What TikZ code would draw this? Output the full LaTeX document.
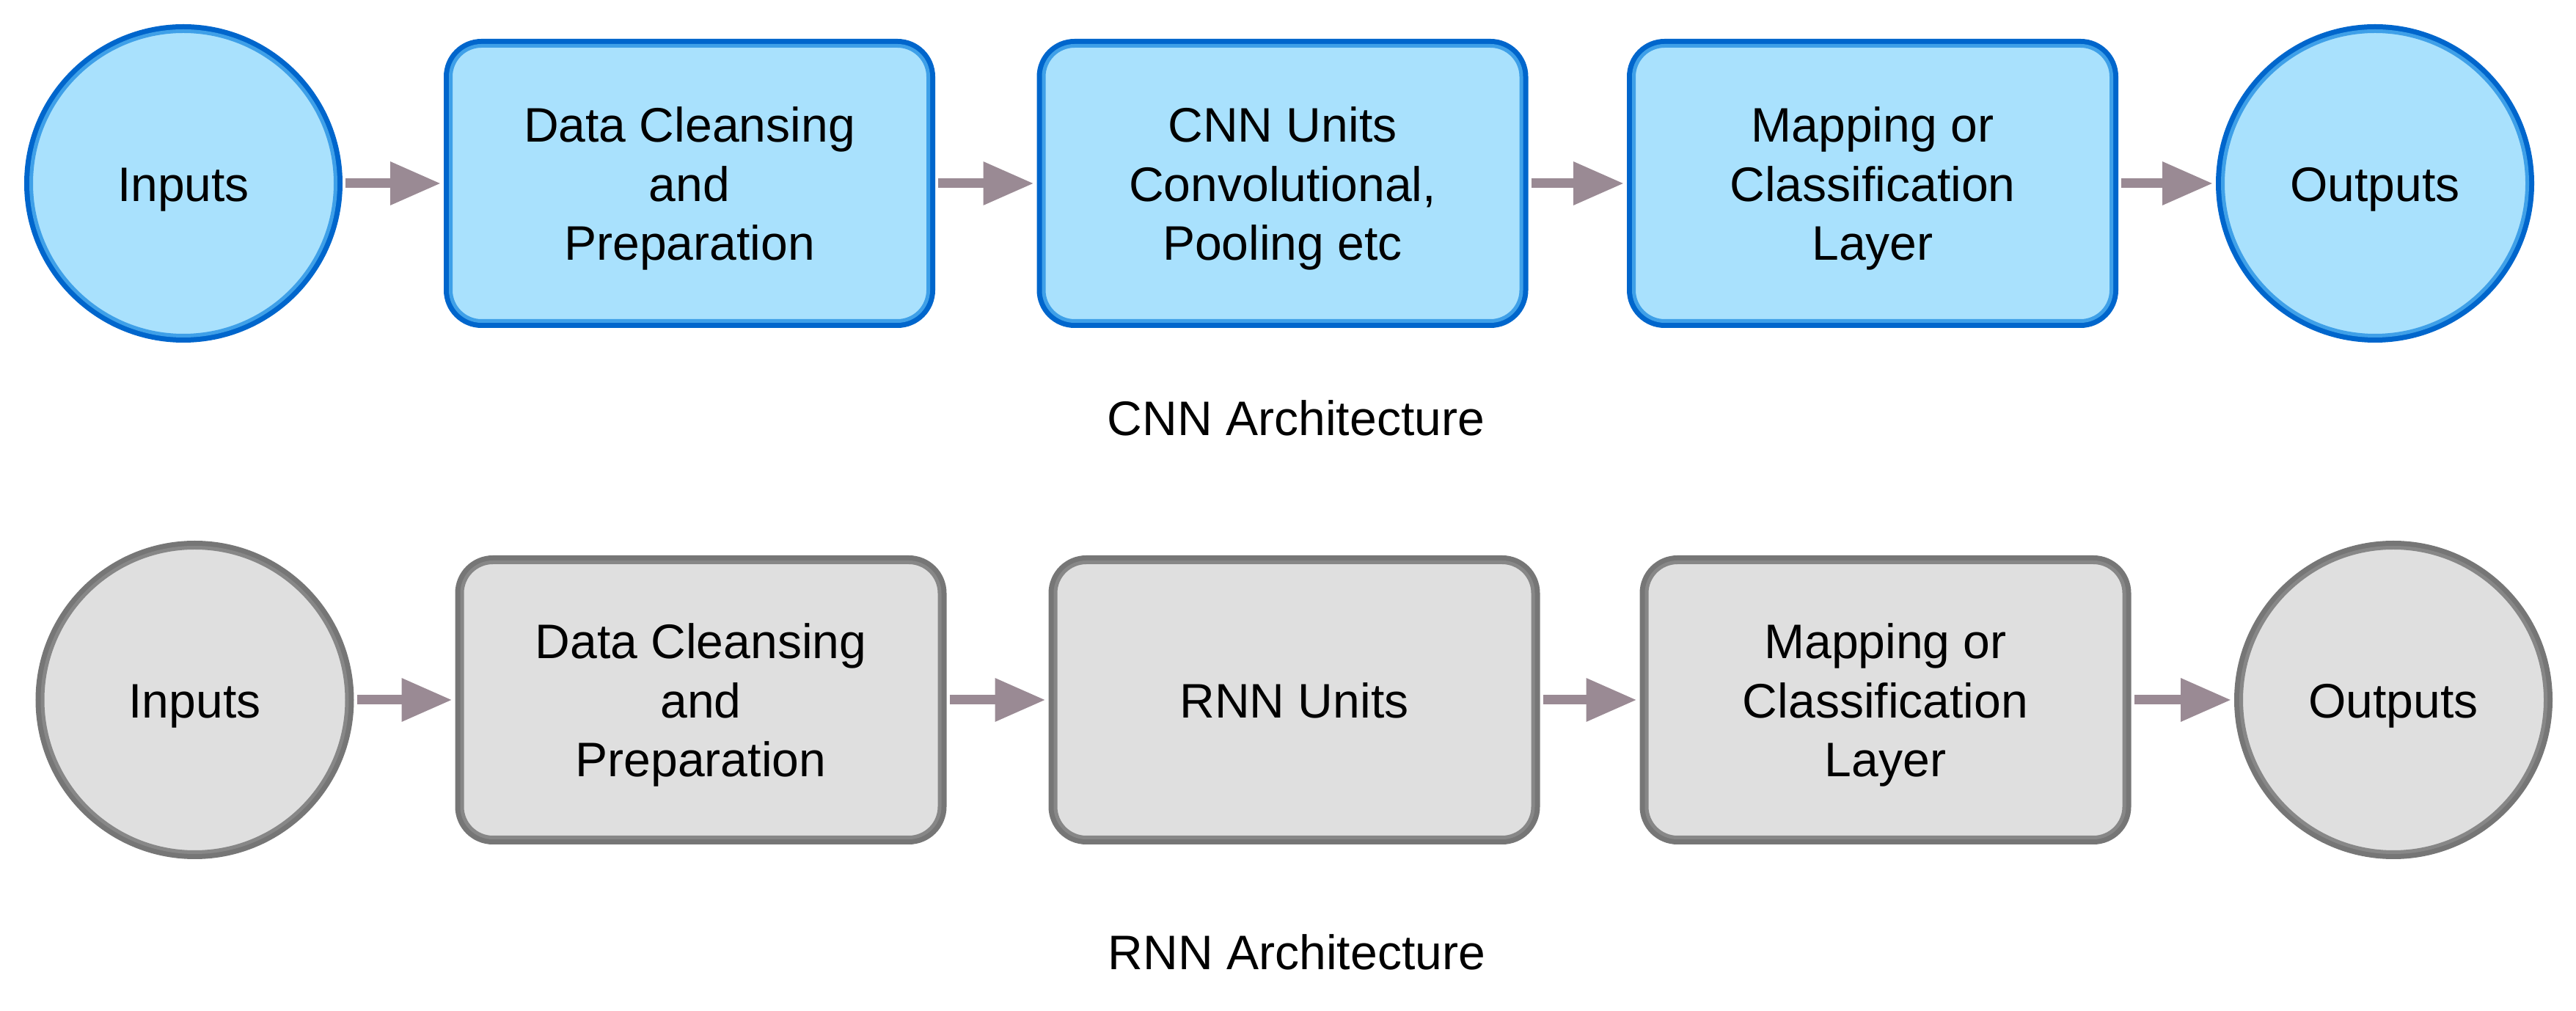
\documentclass[tikz,border=0pt]{standalone}
\usepackage{fontspec}
\setmainfont{Liberation Sans}
\usetikzlibrary{arrows.meta}
\definecolor{bfill}{HTML}{A9E1FD}
\definecolor{bdark}{HTML}{0066CC}
\definecolor{blight}{HTML}{3FA0E8}
\definecolor{gfill}{HTML}{DFDFDF}
\definecolor{gdark}{HTML}{767676}
\definecolor{glight}{HTML}{878787}
\definecolor{arr}{HTML}{9A8A94}
\newcommand{\lbltxt}[1]{\raisebox{-0.08cm}[\height][\depth]{\begin{tabular}{@{}c@{}}#1\end{tabular}}}
\tikzset{
  txt/.style={font=\fontsize{18.8}{22.8}\selectfont, text=black, inner sep=0pt},
  bluestyle/.style={fill=bfill, draw=blight, line width=0.05cm, preaction={draw=bdark, line width=0.19cm}},
  graystyle/.style={fill=gfill, draw=glight, line width=0.05cm, preaction={draw=gdark, line width=0.19cm}},
  roundnode/.style={txt, circle, minimum size=4.15cm},
  boxnode/.style={txt, rectangle, rounded corners=0.42cm, minimum width=6.51cm, minimum height=3.75cm},
  flow/.style={draw=arr, line width=0.13cm, -{Triangle[length=0.69cm, width=0.56cm]}, shorten <=0.11cm, shorten >=0.11cm},
  caption/.style={txt, anchor=base}
}
\begin{document}
\begin{tikzpicture}
\useasboundingbox (0,0) rectangle (35.12,-13.78);
% CNN row
\node[roundnode, bluestyle] (in1) at (2.50,-2.50) {\lbltxt{Inputs}};
\node[boxnode, bluestyle] (b11) at (9.40,-2.50) {\lbltxt{Data Cleansing\\and\\Preparation}};
\node[boxnode, bluestyle] (b12) at (17.485,-2.50) {\lbltxt{CNN Units\\Convolutional,\\Pooling etc}};
\node[boxnode, bluestyle] (b13) at (25.53,-2.50) {\lbltxt{Mapping or\\Classification\\Layer}};
\node[roundnode, bluestyle] (out1) at (32.38,-2.50) {\lbltxt{Outputs}};
\draw[flow] (in1) -- (b11);
\draw[flow] (b11) -- (b12);
\draw[flow] (b12) -- (b13);
\draw[flow] (b13) -- (out1);
\node[caption] (cap1) at (17.67,-5.94) {CNN Architecture};
% RNN row
\node[roundnode, graystyle] (in2) at (2.655,-9.54) {\lbltxt{Inputs}};
\node[boxnode, graystyle] (b21) at (9.555,-9.54) {\lbltxt{Data Cleansing\\and\\Preparation}};
\node[boxnode, graystyle] (b22) at (17.645,-9.54) {\lbltxt{RNN Units}};
\node[boxnode, graystyle] (b23) at (25.705,-9.54) {\lbltxt{Mapping or\\Classification\\Layer}};
\node[roundnode, graystyle] (out2) at (32.63,-9.54) {\lbltxt{Outputs}};
\draw[flow] (in2) -- (b21);
\draw[flow] (b21) -- (b22);
\draw[flow] (b22) -- (b23);
\draw[flow] (b23) -- (out2);
\node[caption] (cap2) at (17.68,-13.22) {RNN Architecture};
\end{tikzpicture}
\end{document}
